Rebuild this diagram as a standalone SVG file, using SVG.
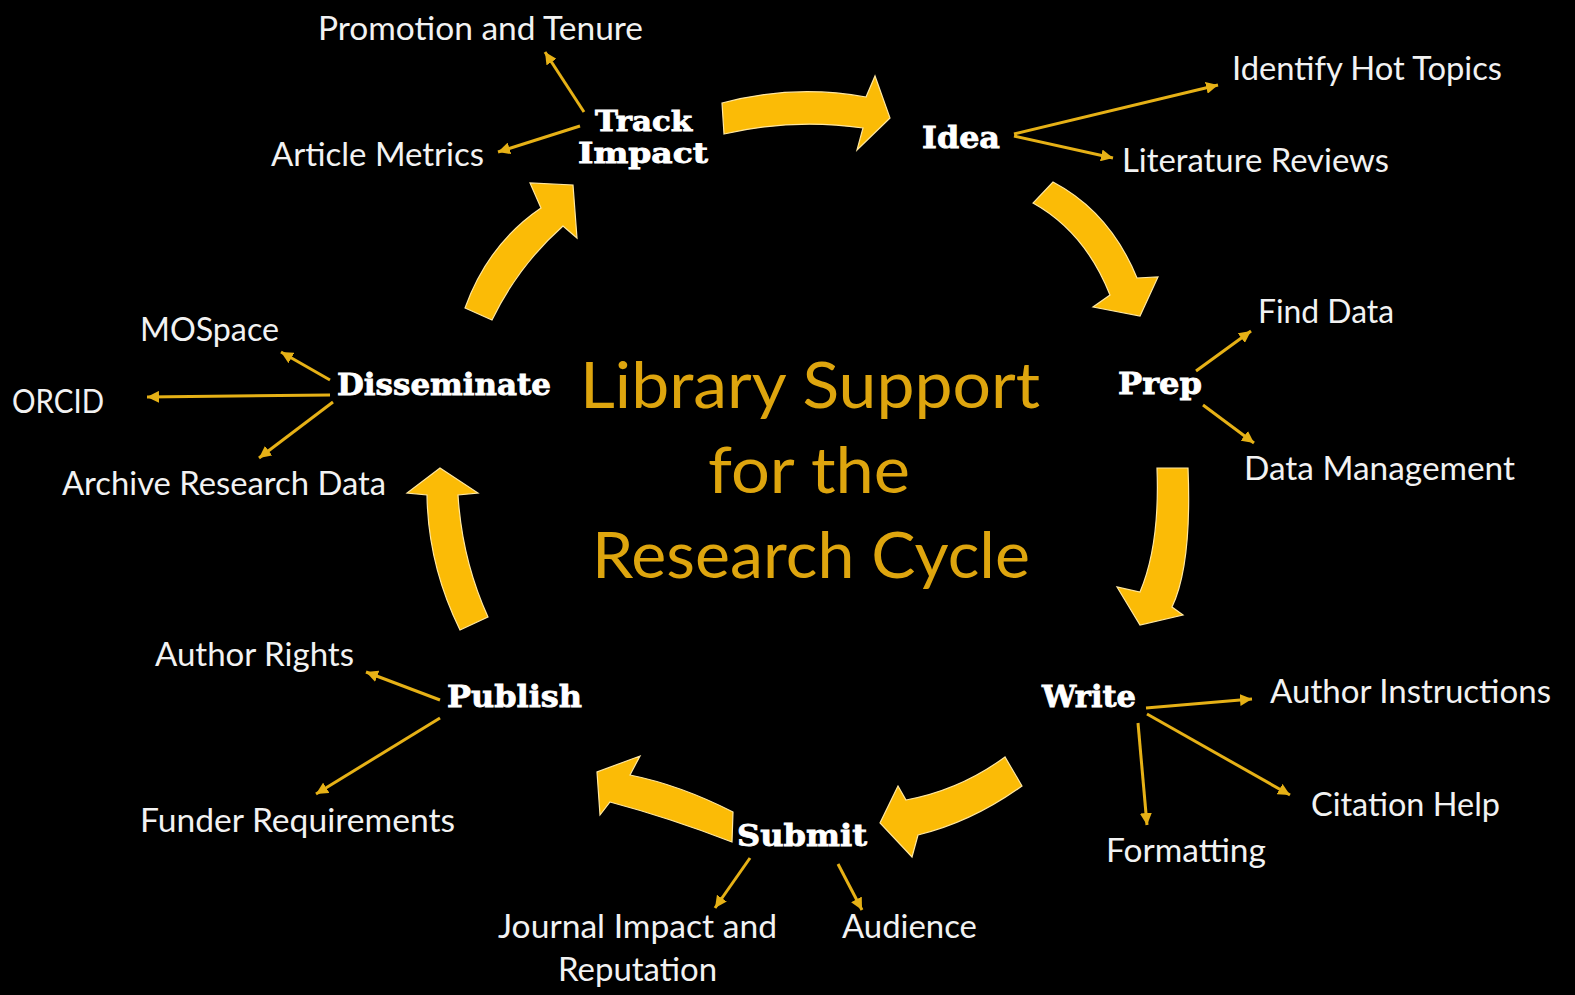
<svg xmlns="http://www.w3.org/2000/svg" width="1575" height="995" viewBox="0 0 1575 995">
<defs>
<style>
.item{font-family:Lato,"Open Sans","Liberation Sans",sans-serif;font-size:32px;fill:#f2f2f2;}
.node{font-family:"DejaVu Serif","Liberation Serif",serif;font-weight:bold;font-size:30px;fill:#ffffff;stroke:#ffffff;stroke-width:0.8;}
.node2{font-size:27px;}
.title{font-family:Lato,"Open Sans","Liberation Sans",sans-serif;font-size:64px;fill:#dea50e;}
.thin{fill:none;stroke:#e6b116;stroke-width:3;marker-end:url(#ah);}
.big{fill:#fbbb06;stroke:#ffe7a0;stroke-width:1.2;stroke-linejoin:miter;}
</style>
<marker id="ah" markerUnits="userSpaceOnUse" markerWidth="14" markerHeight="12" refX="12" refY="6" orient="auto">
<path d="M0,0 L12,6 L0,12 Z" fill="#e6b116"/>
</marker>
</defs>
<rect x="0" y="0" width="1575" height="995" fill="#000000"/>

<g id="title">
<text class="title" x="580" y="408" textLength="460" lengthAdjust="spacingAndGlyphs">Library Support</text>
<text class="title" x="708" y="493" textLength="202" lengthAdjust="spacingAndGlyphs">for the</text>
<text class="title" x="592" y="578" textLength="438" lengthAdjust="spacingAndGlyphs">Research Cycle</text>
</g>

<g id="connectors">
<path class="big" d="M722,103 Q793,84 866,97 L875,76 L890,118 L857,150 L863,128 Q793,118 724,134 Z"/>
<path class="big" d="M1033,203 Q1085,232 1110,295 L1093,307 L1140,316 L1158,277 L1137,278 Q1110,212 1053,182 Z"/>
<path class="big" d="M1157,468 L1188,468 Q1192,565 1172,607 L1183,615 L1140,625 L1117,587 L1140,592 Q1160,545 1157,468 Z"/>
<path class="big" d="M1005,757 Q960,790 906,800 L898,786 L880,823 L912,857 L918,835 Q972,822 1022,786 Z"/>
<path class="big" d="M733,812 Q680,785 630,775 L640,756 L597,772 L600,815 L610,802 Q670,818 732,842 Z"/>
<path class="big" d="M427,495 Q428,565 460,630 L488,617 Q462,560 458,495 L478,493 L440,468 L407,493 Z"/>
<path class="big" d="M465,308 Q488,244 541,208 L530,183 L573,185 L577,238 L563,226 Q518,266 492,320 Z"/>

<line class="thin" x1="584" y1="112" x2="545" y2="52"/>
<line class="thin" x1="580" y1="126" x2="498" y2="152"/>
<line class="thin" x1="1014" y1="134" x2="1218" y2="85"/>
<line class="thin" x1="1014" y1="136" x2="1113" y2="158"/>
<line class="thin" x1="1196" y1="371" x2="1251" y2="331"/>
<line class="thin" x1="1203" y1="405" x2="1254" y2="443"/>
<line class="thin" x1="1146" y1="708" x2="1252" y2="699"/>
<line class="thin" x1="1147" y1="714" x2="1290" y2="795"/>
<line class="thin" x1="1138" y1="723" x2="1147" y2="825"/>
<line class="thin" x1="750" y1="858" x2="715" y2="908"/>
<line class="thin" x1="838" y1="864" x2="862" y2="910"/>
<line class="thin" x1="440" y1="700" x2="366" y2="672"/>
<line class="thin" x1="440" y1="718" x2="316" y2="794"/>
<line class="thin" x1="330" y1="380" x2="281" y2="352"/>
<line class="thin" x1="330" y1="395" x2="147" y2="397"/>
<line class="thin" x1="333" y1="402" x2="259" y2="458"/>
</g>

<g id="node-track"><text class="node node2" x="595" y="131" textLength="97" lengthAdjust="spacingAndGlyphs">Track</text><text class="node node2" x="578" y="163" textLength="130" lengthAdjust="spacingAndGlyphs">Impact</text></g>
<g id="node-idea"><text class="node" x="922" y="148" textLength="78" lengthAdjust="spacingAndGlyphs">Idea</text></g>
<g id="node-prep"><text class="node" x="1118" y="394" textLength="84" lengthAdjust="spacingAndGlyphs">Prep</text></g>
<g id="node-write"><text class="node" x="1042" y="707" textLength="94" lengthAdjust="spacingAndGlyphs">Write</text></g>
<g id="node-submit"><text class="node" x="737" y="846" textLength="130" lengthAdjust="spacingAndGlyphs">Submit</text></g>
<g id="node-publish"><text class="node" x="447" y="707" textLength="135" lengthAdjust="spacingAndGlyphs">Publish</text></g>
<g id="node-disseminate"><text class="node" x="337" y="395" textLength="214" lengthAdjust="spacingAndGlyphs">Disseminate</text></g>

<g id="item-promotion"><text class="item" x="318" y="40" textLength="325" lengthAdjust="spacingAndGlyphs">Promotion and Tenure</text></g>
<g id="item-article-metrics"><text class="item" x="271" y="166" textLength="213" lengthAdjust="spacingAndGlyphs">Article Metrics</text></g>
<g id="item-hot-topics"><text class="item" x="1232" y="80" textLength="270" lengthAdjust="spacingAndGlyphs">Identify Hot Topics</text></g>
<g id="item-lit-reviews"><text class="item" x="1122" y="172" textLength="267" lengthAdjust="spacingAndGlyphs">Literature Reviews</text></g>
<g id="item-find-data"><text class="item" x="1258" y="323" textLength="136" lengthAdjust="spacingAndGlyphs">Find Data</text></g>
<g id="item-data-mgmt"><text class="item" x="1244" y="480" textLength="271" lengthAdjust="spacingAndGlyphs">Data Management</text></g>
<g id="item-author-instr"><text class="item" x="1270" y="703" textLength="281" lengthAdjust="spacingAndGlyphs">Author Instructions</text></g>
<g id="item-citation"><text class="item" x="1311" y="816" textLength="189" lengthAdjust="spacingAndGlyphs">Citation Help</text></g>
<g id="item-formatting"><text class="item" x="1106" y="862" textLength="160" lengthAdjust="spacingAndGlyphs">Formatting</text></g>
<g id="item-journal"><text class="item" x="498" y="938" textLength="279" lengthAdjust="spacingAndGlyphs">Journal Impact and</text><text class="item" x="558" y="981" textLength="159" lengthAdjust="spacingAndGlyphs">Reputation</text></g>
<g id="item-audience"><text class="item" x="842" y="938" textLength="135" lengthAdjust="spacingAndGlyphs">Audience</text></g>
<g id="item-funder"><text class="item" x="140" y="832" textLength="315" lengthAdjust="spacingAndGlyphs">Funder Requirements</text></g>
<g id="item-author-rights"><text class="item" x="155" y="666" textLength="199" lengthAdjust="spacingAndGlyphs">Author Rights</text></g>
<g id="item-archive"><text class="item" x="62" y="495" textLength="324" lengthAdjust="spacingAndGlyphs">Archive Research Data</text></g>
<g id="item-orcid"><text class="item" x="12" y="413" textLength="92" lengthAdjust="spacingAndGlyphs">ORCID</text></g>
<g id="item-mospace"><text class="item" x="140" y="341" textLength="139" lengthAdjust="spacingAndGlyphs">MOSpace</text></g>
</svg>
